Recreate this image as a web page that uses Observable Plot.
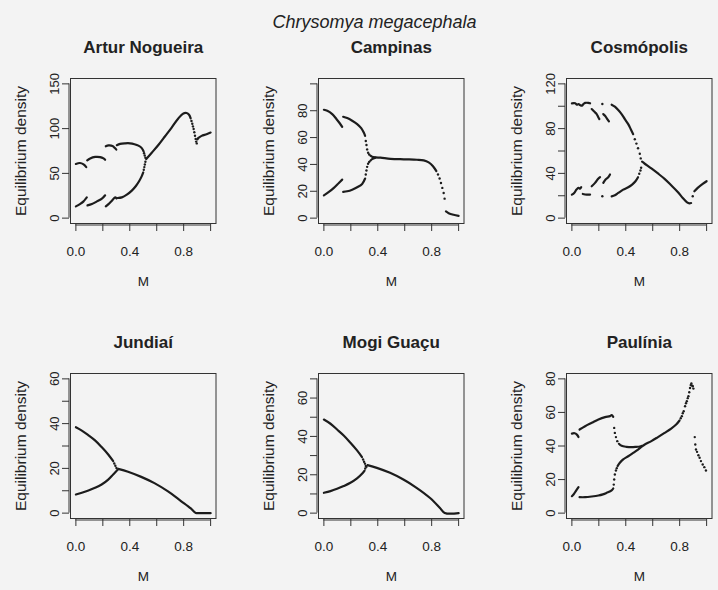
<!DOCTYPE html>
<html>
<head>
<meta charset="utf-8">
<script src="https://cdn.jsdelivr.net/npm/d3@7"></script>
<script src="https://cdn.jsdelivr.net/npm/@observablehq/plot@0.6"></script>
<style>
html, body { margin: 0; padding: 0; background: #f3f3f3; }
#root { position: relative; width: 718px; height: 590px; overflow: hidden; font-family: "Liberation Sans", Arial, sans-serif; color: #222; }
#root svg { position: absolute; overflow: visible; }
</style>
</head>
<body>
<div id="root"></div>
<script>
// ---------- data ----------
const mainTitle = "Chrysomya megacephala";
const panelTitles = ["Artur Nogueira", "Campinas", "Cosmópolis", "Jundiaí", "Mogi Guaçu", "Paulínia"];
const xLabel = "M";
const yLabel = "Equilibrium density";
const xTicks = [0, 0.2, 0.4, 0.6, 0.8, 1.0];
const xTickLabels = [0, 0.4, 0.8];
const yMax = [150, 100, 120, 60, 70, 80];
const yTicks = [
  [0, 50, 100, 150],
  [0, 20, 40, 60, 80, 100],
  [0, 20, 40, 60, 80, 100, 120],
  [0, 10, 20, 30, 40, 50, 60],
  [0, 10, 20, 30, 40, 50, 60, 70],
  [0, 20, 40, 60, 80]
];
const yTickLabels = [
  [0, 50, 100, 150],
  [0, 20, 40, 60, 80],
  [0, 40, 80, 120],
  [0, 20, 40, 60],
  [0, 20, 40, 60],
  [0, 20, 40, 60, 80]
];

// branches drawn densely: [M, density]
const arturNogueiraLines = [
  [[0, 60.5], [0.03, 61.6], [0.057, 60], [0.077, 57]],
  [[0, 13.1], [0.03, 15.7], [0.057, 18.7], [0.081, 23.2]],
  [[0.084, 64.5], [0.106, 66.7], [0.143, 68.4], [0.18, 68.2], [0.205, 66.7], [0.217, 65.2]],
  [[0.086, 14.2], [0.119, 15.7], [0.156, 18.7], [0.193, 21.7], [0.217, 25.5]],
  [[0.222, 80.2], [0.242, 81.2], [0.272, 80.6], [0.291, 78], [0.3, 76.5]],
  [[0.222, 13.1], [0.242, 15.7], [0.267, 19.5], [0.291, 23.2], [0.302, 22]],
  [[0.304, 81.5], [0.328, 83], [0.365, 83.6], [0.402, 83.6], [0.435, 82.6], [0.464, 81], [0.489, 78.2], [0.503, 74.5]],
  [[0.31, 22.5], [0.341, 23.2], [0.378, 26.2], [0.415, 30.7], [0.444, 35.6], [0.469, 41.2], [0.489, 46.9], [0.5, 51]],
  [[0.522, 66], [0.563, 73.1], [0.612, 81.7], [0.662, 91.5], [0.711, 101.2], [0.76, 111.4], [0.798, 117], [0.822, 117.4], [0.84, 115.5], [0.852, 111.5]],
  [[0.905, 89], [0.933, 91.9], [0.97, 93.7], [1.0, 95.6]]
];
const arturNogueiraDots = [
  [0.506, 72.5], [0.511, 70], [0.516, 67.5], [0.504, 54], [0.508, 57], [0.512, 60], [0.516, 63],
  [0.858, 108.5], [0.864, 105.5], [0.869, 102.5], [0.874, 99.5], [0.879, 96], [0.884, 92],
  [0.889, 88.5], [0.893, 85.5], [0.897, 83.5], [0.901, 88]
];

const campinasLines = [
  [[0, 80.7], [0.025, 80], [0.062, 77.5], [0.094, 73.7], [0.119, 70.5], [0.136, 68]],
  [[0, 17], [0.037, 19.5], [0.074, 22.5], [0.111, 26.2], [0.136, 28.7]],
  [[0.143, 75.5], [0.173, 74.5], [0.21, 72.5], [0.247, 70], [0.277, 67], [0.296, 63.7], [0.306, 61.2]],
  [[0.143, 19.5], [0.173, 20], [0.21, 21.2], [0.247, 23], [0.284, 25.5], [0.306, 29.5]],
  [[0.345, 46.5], [0.358, 45.7], [0.383, 45.2], [0.42, 45], [0.494, 44.2], [0.593, 43.8], [0.691, 43.5], [0.741, 43], [0.778, 41.5], [0.81, 38.7], [0.835, 35]],
  [[0.345, 42.8], [0.358, 43.9], [0.383, 45]],
  [[0.906, 5], [0.926, 3.7], [0.963, 2.5], [1.0, 1.7]]
];
const campinasDots = [
  [0.311, 57.5], [0.316, 54.5], [0.321, 51.2], [0.328, 48.7], [0.336, 47.4],
  [0.311, 32.5], [0.316, 35.5], [0.321, 38.2], [0.328, 40.5], [0.336, 41.8],
  [0.847, 32.5], [0.859, 29.5], [0.869, 26.2], [0.879, 22.5], [0.889, 18.7], [0.896, 14.5]
];

const cosmopolisLines = [
  [[0, 102.6], [0.025, 102.6], [0.037, 101.4], [0.049, 102], [0.061, 101], [0.074, 100.5], [0.086, 102], [0.098, 103], [0.123, 103], [0.135, 102.6]],
  [[0.147, 97.5], [0.16, 96], [0.172, 94.5], [0.184, 93], [0.197, 90], [0.204, 88.5]],
  [[0.233, 93], [0.246, 91.5], [0.258, 89.4], [0.275, 86.4]],
  [[0.295, 101.4], [0.319, 99.6], [0.344, 96.6], [0.369, 93], [0.393, 88.5], [0.418, 84], [0.437, 79.5], [0.455, 75]],
  [[0, 21], [0.017, 22.5], [0.034, 25.5], [0.049, 27], [0.061, 26.4], [0.069, 27.6]],
  [[0.081, 21.6], [0.11, 21], [0.135, 21]],
  [[0.147, 28.5], [0.172, 31.5], [0.197, 35.4], [0.209, 36.6]],
  [[0.233, 31.5], [0.25, 34.5], [0.27, 36.6], [0.283, 39]],
  [[0.295, 19.5], [0.319, 20.4], [0.344, 22.5], [0.381, 25.5], [0.418, 27.6], [0.447, 30], [0.472, 33], [0.491, 36.6]],
  [[0.521, 50.4], [0.541, 48.6], [0.59, 44.4], [0.639, 39.9], [0.688, 35.1], [0.737, 29.4], [0.786, 23.4], [0.823, 18], [0.855, 14.1], [0.872, 13.2], [0.885, 13.5]],
  [[0.909, 24], [0.934, 27], [0.971, 30.6], [1.0, 33]]
];
const cosmopolisDots = [
  [0.226, 102], [0.226, 19.5],
  [0.467, 70.5], [0.479, 66.6], [0.491, 62.4], [0.504, 57.6], [0.511, 53.4],
  [0.5, 39.6], [0.509, 42.6], [0.514, 45], [0.897, 19.5]
];

const jundiaiLines = [
  [[0, 38.4], [0.044, 36.9], [0.093, 34.8], [0.142, 32.5], [0.191, 29.5], [0.24, 26.2], [0.277, 23.2]],
  [[0, 8.3], [0.044, 9.1], [0.093, 10.1], [0.142, 11.3], [0.191, 12.8], [0.24, 15], [0.277, 17.3], [0.301, 18.8]],
  [[0.314, 19.8], [0.387, 18.5], [0.485, 16.2], [0.583, 13.4], [0.681, 9.8], [0.78, 5.4], [0.853, 2.1], [0.89, 0.1], [0.926, 0], [1.0, 0]]
];
const jundiaiDots = [[0.285, 22.2], [0.293, 21.2], [0.301, 20.2], [0.308, 19.3]];

const mogiGuacuLines = [
  [[0, 48.8], [0.049, 46.6], [0.098, 43.6], [0.147, 40.5], [0.197, 36.7], [0.246, 32.7], [0.283, 29.2]],
  [[0, 10.6], [0.049, 11.5], [0.098, 12.7], [0.147, 14.1], [0.197, 15.8], [0.246, 18.1], [0.283, 20.5], [0.302, 22.2]],
  [[0.324, 25], [0.393, 23.6], [0.491, 21], [0.59, 17.5], [0.688, 13.2], [0.786, 8], [0.86, 2.8], [0.897, 0.1], [1.0, 0]]
];
const mogiGuacuDots = [[0.291, 28], [0.298, 26.8], [0.305, 25.8], [0.311, 24.6], [0.307, 23.3], [0.316, 24.2]];

const pauliniaLines = [
  [[0, 47.4], [0.02, 47.6], [0.037, 46.8], [0.049, 45.3]],
  [[0, 10.1], [0.012, 11.1], [0.029, 13.1], [0.049, 15.5]],
  [[0.057, 49.8], [0.098, 51.8], [0.147, 53.8], [0.197, 55.8], [0.246, 57.2], [0.283, 57.8], [0.295, 58.4], [0.307, 57.4]],
  [[0.057, 9.5], [0.098, 9.5], [0.147, 9.9], [0.197, 10.5], [0.23, 11.2], [0.258, 12.1], [0.295, 13.5], [0.307, 14.7]],
  [[0.349, 41.3], [0.369, 40.1], [0.405, 39.5], [0.442, 39.3], [0.479, 39.5], [0.504, 39.7], [0.521, 40.1]],
  [[0.339, 28], [0.356, 30], [0.381, 32], [0.418, 33.9], [0.455, 35.9], [0.491, 37.9], [0.521, 39.8], [0.541, 40.9], [0.59, 42.9], [0.639, 45.3], [0.688, 47.8], [0.737, 50.4], [0.774, 52.8], [0.799, 55.2]]
];
const pauliniaDots = [
  [0.314, 50.8], [0.319, 47.8], [0.327, 45.3], [0.337, 42.9],
  [0.311, 17], [0.314, 20], [0.319, 23], [0.327, 25.4], [0.333, 26.8],
  [0.808, 56.5], [0.816, 57.8], [0.823, 59.5], [0.83, 60.7], [0.84, 63.7], [0.847, 65.5], [0.853, 66.7],
  [0.86, 68.5], [0.865, 69.7], [0.871, 72], [0.877, 74.6], [0.882, 76.3], [0.887, 77.2], [0.893, 76], [0.897, 75.6], [0.902, 74.2],
  [0.912, 45.3], [0.916, 40.9], [0.921, 37.9], [0.929, 36.5], [0.939, 34.5], [0.948, 33], [0.958, 31],
  [0.971, 29], [0.983, 27.4], [0.995, 25.4]
];

const allLines = [arturNogueiraLines, campinasLines, cosmopolisLines, jundiaiLines, mogiGuacuLines, pauliniaLines];
const allDots = [arturNogueiraDots, campinasDots, cosmopolisDots, jundiaiDots, mogiGuacuDots, pauliniaDots];

// ---------- layout ----------
const boxLeft = [70, 317.5, 565.5];
const boxTop = [77.6, 372.6];
const boxW = 145.5, boxH = 145;
const ML = 62, MR = 8, MT = 48, MB = 72;
const ink = "#1c1c1c";
const font = "'Liberation Sans', Arial, sans-serif";

const root = document.getElementById("root");

function panel(i) {
  const ymax = yMax[i];
  const ydom = [-0.04 * ymax, 1.04 * ymax];
  const segs = allLines[i].flatMap((seg, k) => seg.map(([m, v]) => ({m, v, k})));
  const dts = allDots[i].map(([m, v]) => ({m, v}));
  const svg = Plot.plot({
    width: ML + boxW + MR,
    height: MT + boxH + MB,
    marginLeft: ML, marginRight: MR, marginTop: MT, marginBottom: MB,
    x: {domain: [-0.04, 1.04]},
    y: {domain: ydom},
    style: {background: "transparent", fontFamily: font, color: "#222", overflow: "visible"},
    marks: [
      Plot.frame({stroke: "#333", strokeWidth: 1}),
      Plot.axisX({ticks: xTicks, tickSize: 7, tickFormat: () => "", label: null, dy: 1, stroke: "#333"}),
      Plot.axisY({ticks: yTicks[i], tickSize: 7, tickFormat: () => "", label: null, dx: -1, stroke: "#333"}),
      Plot.ruleY([ydom[0]], {x1: 0, x2: 1, dy: 1.5, stroke: "#333"}),
      Plot.ruleX([-0.04], {y1: 0, y2: ymax, dx: -1.5, stroke: "#333"}),
      Plot.text(xTickLabels, {x: d => d, text: d => d.toFixed(1), frameAnchor: "bottom", dy: 32, lineAnchor: "bottom", fontSize: 13.5, fill: "#222"}),
      Plot.text(yTickLabels[i], {y: d => d, text: d => String(d), frameAnchor: "left", dx: -12, rotate: -90, textAnchor: "middle", lineAnchor: "bottom", fontSize: 13, fill: "#222"}),
      Plot.text([yLabel], {text: d => d, frameAnchor: "left", dx: -45, rotate: -90, textAnchor: "middle", lineAnchor: "bottom", fontSize: 15.5, fill: "#222"}),
      Plot.text([xLabel], {text: d => d, frameAnchor: "bottom", dy: 62, lineAnchor: "bottom", fontSize: 13.5, fill: "#222"}),
      Plot.text([panelTitles[i]], {text: d => d, frameAnchor: "top", dy: -26, lineAnchor: "bottom", fontSize: 17, fontWeight: "bold", fill: "#222"}),
      Plot.line(segs, {x: "m", y: "v", z: "k", curve: "catmull-rom", stroke: ink, strokeWidth: 2.2}),
      Plot.dot(dts, {x: "m", y: "v", r: 1.2, fill: ink, stroke: "none"})
    ]
  });
  const col = i % 3, row = Math.floor(i / 3);
  svg.style.left = (boxLeft[col] - ML) + "px";
  svg.style.top = (boxTop[row] - MT) + "px";
  root.appendChild(svg);
}

for (let i = 0; i < 6; i++) panel(i);

// main title
const ns = "http://www.w3.org/2000/svg";
const tsvg = document.createElementNS(ns, "svg");
tsvg.setAttribute("width", 718);
tsvg.setAttribute("height", 40);
tsvg.style.left = "0px";
tsvg.style.top = "0px";
const t = document.createElementNS(ns, "text");
t.setAttribute("x", 374.5);
t.setAttribute("y", 28);
t.setAttribute("text-anchor", "middle");
t.setAttribute("font-style", "italic");
t.setAttribute("font-size", "18");
t.setAttribute("font-family", font);
t.setAttribute("fill", "#222");
t.textContent = mainTitle;
tsvg.appendChild(t);
root.appendChild(tsvg);
</script>
</body>
</html>
